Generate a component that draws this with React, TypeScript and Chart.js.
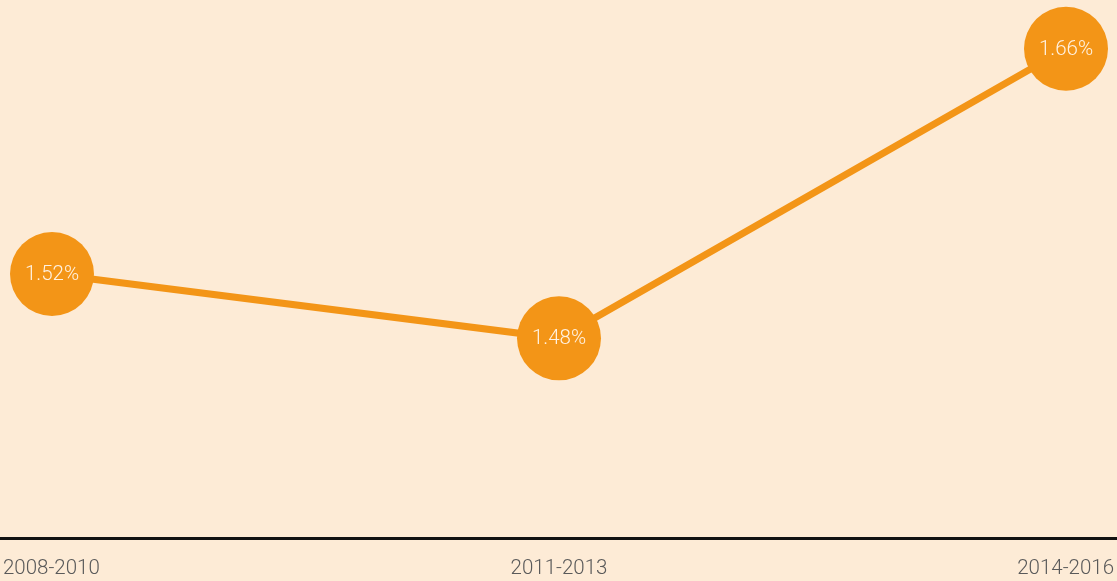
import React, { useEffect, useRef } from "react";
import { Chart, registerables } from "chart.js";

Chart.register(...registerables);

const categories = ["2008-2010", "2011-2013", "2014-2016"];
const values = [1.52, 1.48, 1.66];
const valueLabels = ["1.52%", "1.48%", "1.66%"];

const BG = "#FDEBD6";
const ORANGE = "#F39517";

export default function App() {
  const ref = useRef<HTMLCanvasElement | null>(null);

  useEffect(() => {
    if (!ref.current) return;
    const bgPlugin = {
      id: "bg",
      beforeDraw(chart: any) {
        const { ctx, width, height } = chart;
        ctx.save();
        ctx.fillStyle = BG;
        ctx.fillRect(0, 0, width, height);
        ctx.restore();
      },
    };
    const labelPlugin = {
      id: "pointLabels",
      afterDatasetsDraw(chart: any) {
        const { ctx } = chart;
        const meta = chart.getDatasetMeta(0);
        ctx.save();
        ctx.fillStyle = "#FFF2E2";
        ctx.font = "300 20.5px Roboto";
        ctx.textAlign = "center";
        ctx.textBaseline = "middle";
        meta.data.forEach((pt: any, i: number) => {
          ctx.fillText(valueLabels[i], pt.x, pt.y + 1);
        });
        ctx.restore();
      },
    };
    const edgeInset = 3 / 507;
    const chart = new Chart(ref.current, {
      type: "line",
      data: {
        datasets: [
          {
            data: values.map((v, i) => ({ x: i, y: v })),
            borderColor: ORANGE,
            backgroundColor: ORANGE,
            borderWidth: 7,
            pointRadius: 42,
            pointHoverRadius: 42,
            pointBackgroundColor: ORANGE,
            pointBorderWidth: 0,
            tension: 0,
            clip: false as any,
          },
        ],
      },
      options: {
        animation: false,
        responsive: true,
        maintainAspectRatio: false,
        layout: { padding: 0, autoPadding: false },
        plugins: { legend: { display: false }, tooltip: { enabled: false } },
        scales: {
          x: {
            type: "linear",
            min: -52 / 507,
            max: 1065 / 507,
            grid: { display: false, drawTicks: false },
            border: { display: true, color: "#111111", width: 3 },
            afterBuildTicks: (scale: any) => {
              scale.ticks = [
                { value: scale.min + edgeInset },
                { value: 1 },
                { value: scale.max - edgeInset },
              ];
            },
            afterFit: (scale: any) => {
              scale.height = 43;
              scale.paddingLeft = 0;
              scale.paddingRight = 0;
            },
            ticks: {
              align: "inner",
              padding: 19,
              color: "#5a5a5a",
              font: { family: "Roboto", size: 20.5, weight: "300" as any },
              maxRotation: 0,
              autoSkip: false,
              callback: (_v: any, i: number) => categories[i],
            },
          },
          y: {
            display: false,
            min: 1.3559,
            max: 1.6903,
          },
        },
      },
      plugins: [bgPlugin, labelPlugin],
    });
    return () => chart.destroy();
  }, []);

  return (
    <div style={{ position: "fixed", left: 0, top: 0, width: 1117, height: 581, background: BG }}>
      <canvas ref={ref} />
    </div>
  );
}
